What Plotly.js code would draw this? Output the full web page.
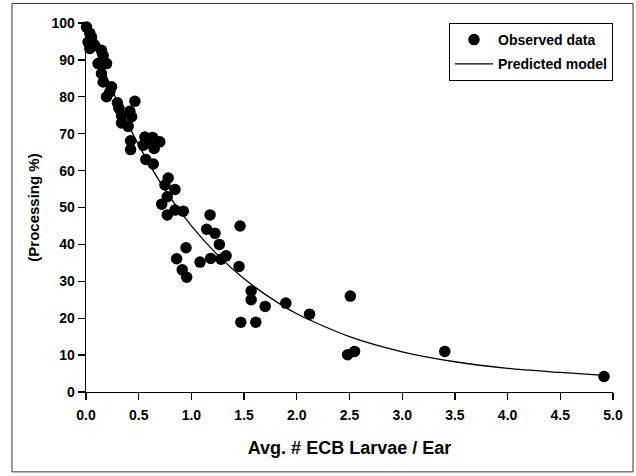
<!DOCTYPE html>
<html>
<head>
<meta charset="utf-8">
<script src="https://cdn.plot.ly/plotly-3.0.1.min.js"></script>
<style>
html,body{margin:0;padding:0;background:#fff;}
#chart{width:636px;height:476px;}
</style>
</head>
<body>
<div id="chart"></div>
<script>
// Observed data (Avg. # ECB larvae per ear, processing %)
var obsX = [-0.03, 0.005, 0.036, 0.052, 0.02, 0.067, 0.036, 0.084, 0.147, 0.163, 0.115, 0.195, 0.147, 0.163, 0.242, 0.195, 0.226,
  0.298, 0.312, 0.337, 0.464, 0.416, 0.433,
  0.337, 0.40, 0.423, 0.423, 0.559, 0.632, 0.70, 0.60, 0.647, 0.543, 0.568, 0.638,
  0.78, 0.749, 0.844, 0.771, 0.718, 0.771, 0.844, 0.923, 1.177, 1.145, 1.224, 1.462,
  1.265, 0.949, 0.86, 1.082, 1.183, 1.281, 1.329, 1.452, 0.913, 0.955,
  1.567, 1.567, 1.70, 1.896, 1.469, 1.611, 2.121, 2.508, 2.482, 2.548, 3.404, 4.915];
var obsY = [99.8, 98.9, 97.2, 96.2, 94.8, 94.4, 93.1, 93.9, 92.6, 91.2, 89.0, 89.0, 86.3, 84.0, 82.7, 80.0, 81.3,
  78.4, 76.9, 74.9, 78.8, 76.1, 74.6,
  72.9, 72.0, 68.1, 65.7, 69.1, 69.0, 67.8, 67.5, 66.0, 66.9, 63.0, 61.8,
  58.0, 56.1, 54.9, 52.9, 50.9, 48.0, 49.3, 49.0, 48.0, 44.1, 43.0, 45.0,
  40.0, 39.1, 36.1, 35.2, 36.2, 36.0, 36.9, 34.0, 33.1, 31.1,
  27.4, 25.0, 23.2, 24.1, 18.9, 18.9, 21.1, 26.0, 10.1, 11.0, 11.0, 4.2];

// Predicted model curve
var modelX = [0, 0.1, 0.25, 0.5, 0.75, 1.0, 1.25, 1.5, 1.75, 2.0, 2.5, 3.0, 3.5, 4.0, 4.5, 4.915];
var modelY = [100, 92.3, 81.7, 66.9, 54.8, 45.0, 37.1, 30.7, 25.5, 21.2, 15.0, 10.9, 8.2, 6.4, 5.3, 4.5];

var xTicks = [0, 0.5, 1, 1.5, 2, 2.5, 3, 3.5, 4, 4.5, 5];
var xTickText = ['0.0','0.5','1.0','1.5','2.0','2.5','3.0','3.5','4.0','4.5','5.0'];
var yTicks = [0,10,20,30,40,50,60,70,80,90,100];

var FONT = 'Liberation Sans, Arial, Helvetica, sans-serif';

var traces = [
  {
    x: obsX, y: obsY, type: 'scatter', mode: 'markers', name: '<b>Observed data</b>',
    legendgroup: 'a',
    marker: {color: '#000', size: 11.5, line: {width: 0}},
    cliponaxis: false
  },
  {
    x: modelX, y: modelY, type: 'scatter', mode: 'lines', name: '<b>Predicted model</b>',
    legendgroup: 'b',
    line: {color: '#000', width: 1.3, shape: 'spline', smoothing: 0.8},
    cliponaxis: false
  }
];

var layout = {
  width: 636, height: 476,
  margin: {l: 86, r: 23, t: 23, b: 84},
  paper_bgcolor: '#fff', plot_bgcolor: '#fff',
  font: {family: FONT, color: '#000', size: 14},
  showlegend: true,
  legend: {
    x: 1, xanchor: 'right', y: 1, yanchor: 'top',
    bordercolor: '#000', borderwidth: 1, bgcolor: '#fff',
    font: {family: FONT, size: 14, color: '#000'},
    traceorder: 'grouped', tracegroupgap: 3, itemwidth: 38
  },
  xaxis: {
    range: [0, 5], tickvals: xTicks, ticktext: xTickText,
    showline: true, linecolor: '#000', linewidth: 1.3,
    ticks: 'outside', ticklen: 7, tickwidth: 1.3, tickcolor: '#000',
    ticklabelstandoff: 3,
    showgrid: false, zeroline: false,
    tickfont: {family: FONT, size: 14, color: '#000', weight: 'bold'},
    title: {text: '<b>Avg. # ECB Larvae / Ear</b>', font: {family: FONT, size: 18, color: '#000'}, standoff: 19}
  },
  yaxis: {
    range: [0, 100], tickvals: yTicks,
    showline: true, linecolor: '#000', linewidth: 1.3,
    ticks: 'outside', ticklen: 7, tickwidth: 1.3, tickcolor: '#000',
    showgrid: false, zeroline: false,
    tickfont: {family: FONT, size: 14, color: '#000', weight: 'bold'},
    title: {text: '<b>(Processing %)</b>', font: {family: FONT, size: 15, color: '#000'}, standoff: 8}
  },
  shapes: [
    {type: 'rect', xref: 'paper', yref: 'paper', x0: -0.1405, x1: 1.038, y0: -0.2165, y1: 1.053,
     line: {color: '#333', width: 1}, fillcolor: 'rgba(0,0,0,0)', layer: 'below'}
  ]
};

Plotly.newPlot('chart', traces, layout, {displayModeBar: false, staticPlot: true});
</script>
</body>
</html>
